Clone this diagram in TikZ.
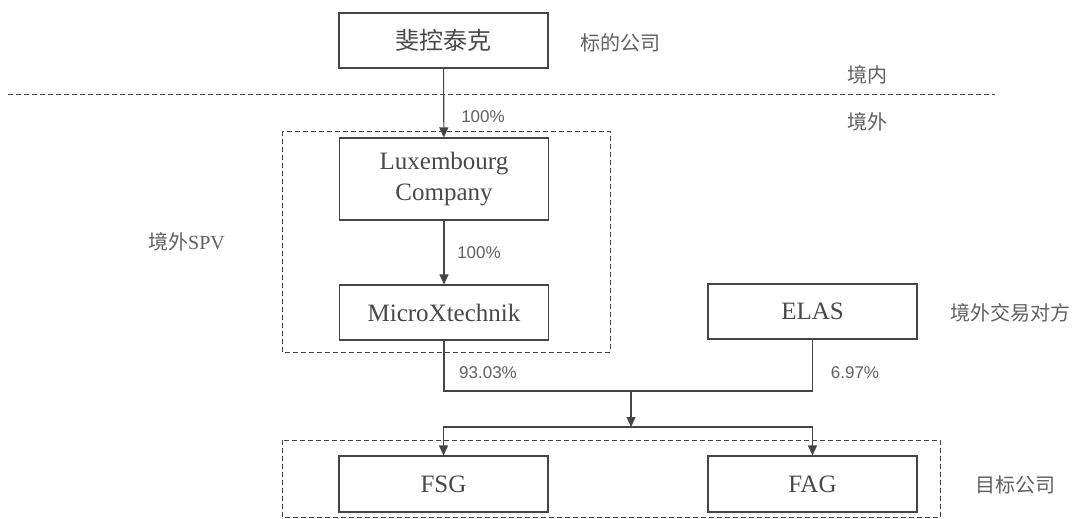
\documentclass[tikz,border=0pt]{standalone}
\usepackage{fontspec}
\setmainfont{Liberation Serif}
\newfontfamily\cjk{Noto Sans CJK SC}
\newfontfamily\pctfont{Liberation Sans}
\usetikzlibrary{arrows.meta}
\definecolor{linegray}{HTML}{454545}
\definecolor{boxtext}{HTML}{484848}
\definecolor{labeltext}{HTML}{606060}
\tikzset{
  entity/.style={draw=linegray, line width=1.1pt, minimum width=209pt, minimum height=55pt,
    inner sep=0pt, align=center, text=boxtext, font=\fontsize{25}{31}\selectfont},
  cjkentity/.style={entity, font=\cjk\fontsize{24}{28}\selectfont},
  sidelabel/.style={text=labeltext, font=\cjk\fontsize{20}{24}\selectfont, inner sep=0pt},
  pctlabel/.style={text=labeltext, font=\pctfont\fontsize{17}{20}\selectfont, inner sep=0pt},
  conn/.style={draw=linegray, line width=1.1pt},
  arr/.style={conn, -{Triangle[length=10pt,width=9pt]}},
  dashedline/.style={draw=linegray, line width=0.9pt, dash pattern=on 5pt off 3pt},
}
\begin{document}
\begin{tikzpicture}[x=1pt,y=-1pt]
\useasboundingbox (0,0) rectangle (1089,519);
% dashed frames and border line
\coordinate (bl) at (8,94);
\coordinate (br) at (995,94);
\draw[dashedline] (bl) -- (br);
\coordinate (spvA) at (282,131);
\coordinate (spvB) at (610,352);
\draw[dashedline] (spvA) rectangle (spvB);
\coordinate (tgtA) at (282,440);
\coordinate (tgtB) at (940,517.5);
\draw[dashedline] (tgtA) rectangle (tgtB);
% boxes
\node[cjkentity] (fk) at (443.5,40.5) {斐控泰克};
\node[entity, minimum height=82pt] (lux) at (444,179) {Luxembourg\\Company};
\node[entity] (micro) at (444,312.5) {MicroXtechnik};
\node[entity] (elas) at (812.5,311.5) {ELAS};
\node[entity, minimum height=56pt] (fsg) at (443.5,484) {FSG};
\node[entity, minimum height=56pt] (fag) at (812.5,484) {FAG};
% side labels
\node[sidelabel] (l1) at (620,43) {标的公司};
\node[sidelabel] (l2) at (867,75) {境内};
\node[sidelabel] (l3) at (867,122) {境外};
\node[sidelabel, anchor=west] (l4) at (148,242) {境外{\fontspec{Liberation Serif}SPV}};
\node[sidelabel, anchor=west] (l5) at (950,313) {境外交易对方};
\node[sidelabel, anchor=west] (l6) at (975,485) {目标公司};
% percentages
\node[pctlabel] (p1) at (483,117) {100\%};
\node[pctlabel] (p2) at (479,253) {100\%};
\node[pctlabel] (p3) at (488,373) {93.03\%};
\node[pctlabel] (p4) at (855,373) {6.97\%};
% connectors
\draw[arr] (fk) -- (lux);
\draw[arr] (lux) -- (micro);
\coordinate (j) at (631,391);
\coordinate (split) at (631,427);
\draw[conn] (micro.south) -- (micro.south |- j) -- (elas.south |- j) -- (elas.south);
\draw[arr] (j) -- (split);
\draw[arr] (split) -| (fsg.north);
\draw[arr] (split) -| (fag.north);
\end{tikzpicture}
\end{document}
